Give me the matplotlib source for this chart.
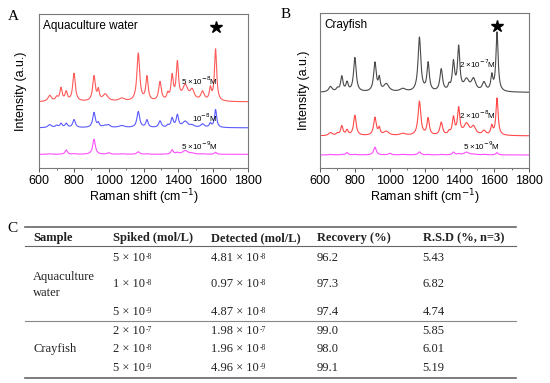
import matplotlib
matplotlib.use("Agg")
import matplotlib.pyplot as plt
from matplotlib.ticker import MultipleLocator
import numpy as np

plt.rcParams["font.family"] = ["Liberation Sans", "DejaVu Sans"]

# Raman bands (cm-1) and their widths
peak_pos = [660, 700, 725, 755, 800, 915, 940, 980, 1000, 1075, 1170, 1220,
            1295, 1340, 1365, 1395, 1440, 1480, 1540, 1585, 1615]
peak_fwhm = [24, 18, 16, 16, 18, 18, 13, 36, 18, 40, 19, 16,
             18, 14, 16, 16, 36, 30, 24, 14, 15]

# band heights above baseline, panel A (aquaculture water)
water_5e8 = [6, 4, 13, 9, 28, 25, 10, 7, 0, 3, 48, 24, 19, 6, 24, 37, 15, 10, 9, 12, 52]
water_1e8 = [3, 2, 4, 4, 8, 15, 4, 2, 2, 2, 16, 7.5, 6.5, 2, 9, 12, 6, 2, 3.5, 4, 18]
water_5e9 = [0.5, 0, 0, 4.3, 0.5, 15, 0, 0, 1.5, 0.5, 2.5, 0.5, 0, 0, 4.3, 1.5, 3.7, 1, 0.5, 0, 2]
water_base = [66.3, 40.3, 13.7]
water_labels = ["5 ×10$^{-8}$M", "10$^{-8}$M", "5 ×10$^{-9}$M"]

# panel B (crayfish)
fish_2e7 = [5.4, 3, 15, 8.7, 34, 28.7, 12, 7.7, 0, 3, 54, 28, 22, 5, 28, 43, 11, 11.7, 8.7, 15, 59]
fish_2e8 = [3, 2, 9.3, 5, 20, 17.7, 6.7, 4, 0, 2, 34, 16.7, 12.7, 3, 17, 26, 11, 8, 4.3, 8.7, 37]
fish_5e9 = [0.5, 0, 0.5, 2.3, 0.5, 7.7, 0, 0, 1.5, 0.5, 3, 0.5, 0.5, 0, 2.7, 1, 2.7, 0.5, 0.5, 0, 2.3]
fish_base = [75.6, 32.3, 13.3]
fish_labels = ["2 ×10$^{-7}$M", "2 ×10$^{-8}$M", "5 ×10$^{-9}$M"]

# table C
samples = ["Aquaculture\nwater", "Crayfish"]
spiked = ["5 × 10^-8", "1 × 10^-8", "5 × 10^-9", "2 × 10^-7", "2 × 10^-8", "5 × 10^-9"]
detected = ["4.81 × 10^-8", "0.97 × 10^-8", "4.87 × 10^-8",
            "1.98 × 10^-7", "1.96 × 10^-8", "4.96 × 10^-9"]
recovery = ["96.2", "97.3", "97.4", "99.0", "98.0", "99.1"]
rsd = ["5.43", "6.82", "4.74", "5.85", "6.01", "5.19"]
headers = ["Sample", "Spiked (mol/L)", "Detected (mol/L)", "Recovery (%)", "R.S.D (%, n=3)"]

shift = np.arange(600, 1801, 1.0)


def spectrum(heights, base):
    y = np.full_like(shift, base)
    for p, w, h in zip(peak_pos, peak_fwhm, heights):
        y += h / (1 + ((shift - p) / (w / 2)) ** 2)
    return y


W, H = 550, 383
fig = plt.figure(figsize=(5.5, 3.83), dpi=100)


def px_axes(x0, y0, x1, y1):
    return fig.add_axes([x0 / W, 1 - y1 / H, (x1 - x0) / W, (y1 - y0) / H])


def style(ax, ylab_x):
    ax.set_xlim(600, 1800)
    ax.set_ylim(0, 154.5)
    ax.set_yticks([])
    ax.xaxis.set_major_locator(MultipleLocator(200))
    ax.xaxis.set_minor_locator(MultipleLocator(100))
    ax.tick_params(axis="x", which="major", direction="out", length=3, width=0.7,
                   labelsize=9, pad=2, color="#555555")
    ax.tick_params(axis="x", which="minor", direction="out", length=1.5, width=0.6,
                   color="#555555")
    for s in ax.spines.values():
        s.set_color("#7a7a7a")
        s.set_linewidth(0.8)
    ax.set_ylabel("Intensity (a.u.)", fontsize=9)
    ax.yaxis.set_label_coords(ylab_x, 0.5)
    ax.set_xlabel("Raman shift (cm$^{-1}$)", fontsize=9, math_fontfamily="dejavusans")
    ax.xaxis.set_label_coords(0.5, -0.125)


# panel A
axA = px_axes(39.3, 14, 247.7, 168)
colorsA = ["#ff5a5a", "#5a5aff", "#ff4dff"]
for hts, b, c in zip([water_5e8, water_1e8, water_5e9], water_base, colorsA):
    axA.plot(shift, spectrum(hts, b), color=c, lw=0.8)
for lab, (x, y) in zip(water_labels, [(1414, 87), (1479, 50), (1414, 22.7)]):
    axA.text(x, y, lab, fontsize=5.8, va="center", math_fontfamily="dejavusans")
axA.text(0.016, 0.922, "Aquaculture water", transform=axA.transAxes, fontsize=8.5, va="center")
axA.plot([1615], [141.3], marker="*", color="k", ms=9)
style(axA, -0.058)

# panel B
axB = px_axes(320, 13.3, 529.3, 168.3)
colorsB = ["#4a4a4a", "#ff4a4a", "#ff4dff"]
for hts, b, c in zip([fish_2e7, fish_2e8, fish_5e9], fish_base, colorsB):
    axB.plot(shift, spectrum(hts, b), color=c, lw=0.8)
for lab, (x, y) in zip(fish_labels, [(1397, 104.3), (1397, 53.3), (1420, 22.3)]):
    axB.text(x, y, lab, fontsize=5.8, va="center", math_fontfamily="dejavusans")
axB.text(0.019, 0.924, "Crayfish", transform=axB.transAxes, fontsize=8.5, va="center")
axB.plot([1613], [141.6], marker="*", color="k", ms=9)
style(axB, -0.048)

# overlay in pixel coordinates for panel letters and the table
ov = fig.add_axes([0, 0, 1, 1], zorder=-1)
ov.set_xlim(0, W)
ov.set_ylim(H, 0)
ov.axis("off")

for lab, (x, y) in zip("ABC", [(13.5, 16), (286, 15), (12, 228)]):
    ov.text(x, y, lab, fontsize=11, family="Liberation Serif", ha="center", va="center")

tfont = dict(family="Liberation Serif", fontsize=9, color="#222222", va="center")
col_x = [33.3, 113.3, 210.7, 316.7, 422.7]
row_y = [257.7, 284, 311.7, 331, 349.3, 367.7]


def cell(x, y, s):
    base, _, exp = s.partition("^")
    t = ov.text(x, y, base, **tfont)
    if exp:
        ov.annotate(exp, xy=(1, 0.93), xycoords=t, xytext=(0.6, 0),
                    textcoords="offset points", family="Liberation Serif",
                    fontsize=5.5, color="#222222", ha="left", va="top")


for x, h in zip(col_x, headers):
    ov.text(x, 238, h, fontweight="bold", **tfont)
for i, y in enumerate(row_y):
    for x, col in zip(col_x[1:], [spiked, detected, recovery, rsd]):
        cell(x, y, col[i])
ov.text(col_x[0], 284.8, samples[0], linespacing=1.45, **tfont)
ov.text(col_x[0], 349.3, samples[1], **tfont)

ov.plot([25, 516], [227.3, 227.3], color="#666666", lw=1.2)
ov.plot([25, 516], [246, 246], color="#666666", lw=0.8)
ov.plot([25, 516], [320.7, 320.7], color="#888888", lw=0.8)
ov.plot([25, 516], [378.3, 378.3], color="#666666", lw=1.2)

fig.savefig("out.png", dpi=100)
